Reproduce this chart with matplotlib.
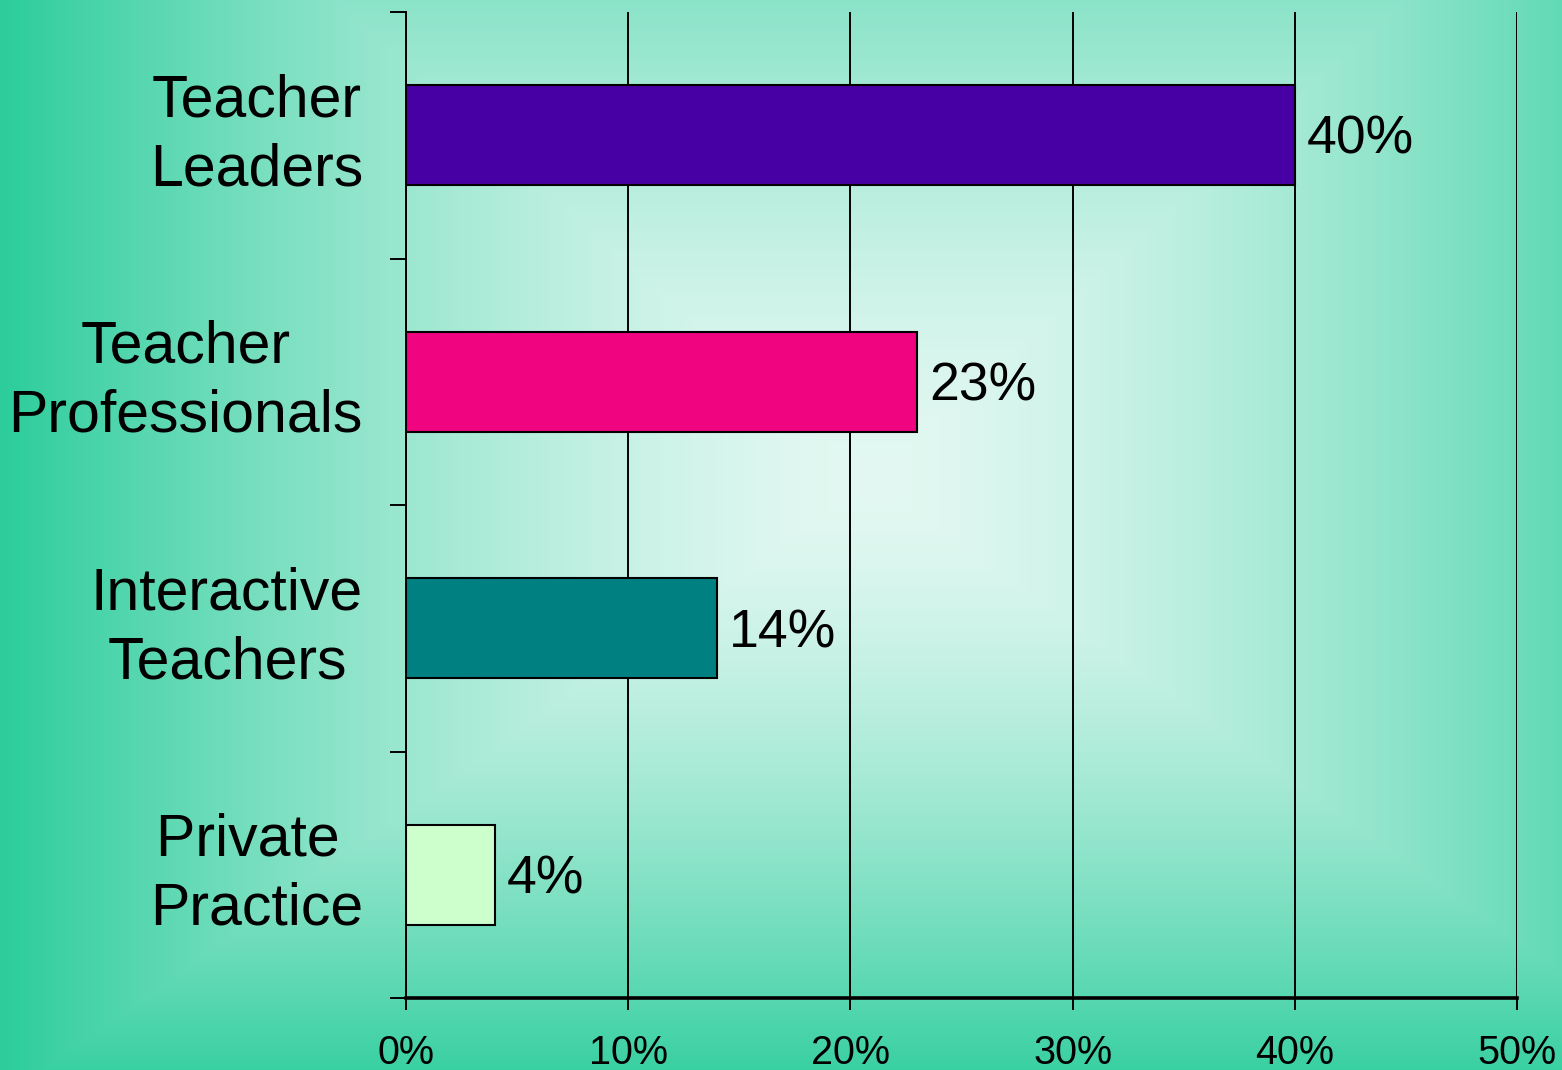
import numpy as np
import matplotlib
matplotlib.use("Agg")
import matplotlib.pyplot as plt
from matplotlib.ticker import FixedLocator, PercentFormatter

plt.rcParams['font.family'] = ['Liberation Sans', 'DejaVu Sans']

# survey shares per group, top to bottom
categories = ["Teacher\nLeaders", "Teacher\nProfessionals", "Interactive\nTeachers", "Private \nPractice"]
shares = [40, 23, 14, 4]
bar_colors = ["#4700A3", "#F0047F", "#008080", "#CCFFCC"]
x_ticks = [0, 10, 20, 30, 40, 50]

W, H, DPI = 1562, 1070, 100
fig = plt.figure(figsize=(W / DPI, H / DPI), dpi=DPI)

# soft box gradient behind everything: pale centre fading to teal edges
bg = fig.add_axes([0, 0, 1, 1], zorder=-10)
bg.set_axis_off()
xx, yy = np.meshgrid(np.arange(W), np.arange(H))
cx, cy = 870, 480
tx = np.abs(xx - cx) / 870.0
ty = np.where(yy < cy, (cy - yy) / 780.0, (yy - cy) / 620.0)
t = np.clip(np.maximum(tx, ty), 0, 1) ** 1.5
c0 = np.array([227, 248, 242]) / 255.0
c1 = np.array([44, 205, 155]) / 255.0
img = c0[None, None, :] + (c1 - c0)[None, None, :] * t[..., None]
bg.imshow(img, aspect='auto', extent=[0, 1, 0, 1], origin='upper')
bg.set_xlim(0, 1)
bg.set_ylim(0, 1)

ax = fig.add_axes([406 / W, 1 - 998 / H, (1517 - 406) / W, (998 - 12) / H])
ax.patch.set_alpha(0)

y = np.arange(len(categories))
ax.barh(y, shares, height=0.405, color=bar_colors, edgecolor='black', linewidth=1.5, zorder=3)

for yi, v in zip(y, shares):
    ax.annotate(f"{v}%", xy=(v, yi), xytext=(8.5, -13.5), textcoords='offset points',
                ha='left', va='baseline', fontsize=38.5, color='black', zorder=4)

ax.set_xlim(0, 50)
ax.set_ylim(len(categories) - 0.5, -0.5)

ax.set_xticks(x_ticks)
ax.xaxis.set_major_formatter(PercentFormatter(decimals=0))
ax.tick_params(axis='x', direction='out', length=8.6, width=1.4, labelsize=28.5, pad=17, colors='black')
ax.grid(axis='x', color='black', linewidth=1.4, zorder=1)
ax.set_axisbelow(True)

ax.set_yticks(y)
ax.set_yticklabels(categories, fontsize=42.5, linespacing=1.33, multialignment='center')
for lbl in ax.get_yticklabels():
    lbl.set_verticalalignment('center')
ax.tick_params(axis='y', which='major', length=0, pad=31)
ax.yaxis.set_minor_locator(FixedLocator(np.arange(-0.5, len(categories), 1.0)))
ax.tick_params(axis='y', which='minor', direction='out', length=11.5, width=1.4)

for s in ['top', 'right']:
    ax.spines[s].set_visible(False)
ax.spines['left'].set_linewidth(1.4)
ax.spines['bottom'].set_linewidth(2.6)

fig.savefig("out.png", dpi=DPI)
